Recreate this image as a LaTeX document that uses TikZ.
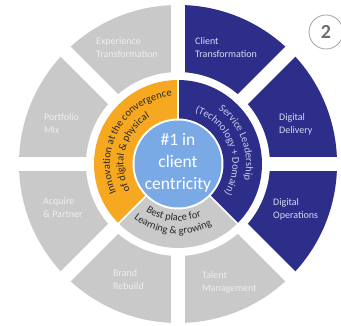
\documentclass[tikz,border=0pt]{standalone}
\usepackage{fontspec}
\setmainfont{Carlito}
\usetikzlibrary{decorations.text}
\definecolor{segGrey}{RGB}{201,201,201}
\definecolor{segBlue}{RGB}{44,46,138}
\definecolor{segOrange}{RGB}{246,168,33}
\definecolor{hubBlue}{RGB}{122,170,230}
\definecolor{paleText}{RGB}{238,238,238}
\definecolor{blueText}{RGB}{214,218,240}
\definecolor{ringBlueText}{RGB}{200,205,238}
\definecolor{darkText}{RGB}{40,40,40}
\definecolor{badgeGrey}{RGB}{110,110,110}
\newcommand{\ringfont}{\fontsize{10.5}{12}\selectfont}

\begin{document}
\begin{tikzpicture}
	[x=1pt,y=1pt,
	 segtext/.style={font=\fontsize{10}{13}\selectfont,align=left,anchor=west,inner sep=0pt},
	 gapline/.style={white,line width=14pt},
	 sepline/.style={white,line width=1.5pt},
	 ringtext/.style={decorate,decoration={text along path,text align=center,text color=#1}},
	 hubtext/.style={text=white,font=\fontsize{17.5}{22}\selectfont,align=center,inner sep=0pt},
	 badge/.style={circle,draw=segGrey!80!black,line width=0.8pt,minimum size=34pt,inner sep=0pt,text=badgeGrey,font=\fontsize{20}{20}\selectfont\bfseries}]
	\useasboundingbox (-178,-162) rectangle (163,164);
	% outer ring
	\fill[segGrey,even odd rule] (0,0) circle[radius=159pt] (0,0) circle[radius=92pt];
	\fill[segBlue] (-45:92pt) arc[start angle=-45,end angle=90,radius=92pt] -- (90:159pt) arc[start angle=90,end angle=-45,radius=159pt] -- cycle;
	\draw[gapline] (0:165pt) -- (180:165pt);
	\draw[gapline] (45:165pt) -- (225:165pt);
	\draw[gapline] (90:165pt) -- (270:165pt);
	\draw[gapline] (135:165pt) -- (315:165pt);
	% middle ring
	\fill[white] (0,0) circle[radius=88pt];
	\fill[segOrange] (0,0) -- (90:84pt) arc[start angle=90,end angle=225,radius=84pt] -- cycle;
	\fill[segGrey] (0,0) -- (225:84pt) arc[start angle=225,end angle=315,radius=84pt] -- cycle;
	\fill[segBlue] (0,0) -- (315:84pt) arc[start angle=315,end angle=450,radius=84pt] -- cycle;
	\draw[sepline] (0,0) -- (90:85pt);
	\draw[sepline] (0,0) -- (225:85pt);
	\draw[sepline] (0,0) -- (315:85pt);
	\fill[white] (0,0) circle[radius=45.5pt];
	\fill[hubBlue] (0,0) circle[radius=43.5pt];
	% ring texts
	\path[ringtext=darkText,decoration={text={|\ringfont|Innovation at the convergence}}] (232:68pt) arc[start angle=232,end angle=68,radius=68pt];
	\path[ringtext=darkText,decoration={text={|\ringfont|of digital {\&} physical}}] (245:54.5pt) arc[start angle=245,end angle=85,radius=54.5pt];
	\path[ringtext=ringBlueText,decoration={text={|\ringfont|Service Leadership}}] (100:68pt) arc[start angle=100,end angle=-60,radius=68pt];
	\path[ringtext=ringBlueText,decoration={text={|\ringfont|(Technology + Domain)}}] (100:54.5pt) arc[start angle=100,end angle=-60,radius=54.5pt];
	\path[ringtext=darkText,decoration={text={|\ringfont|Best place for}}] (190:57pt) arc[start angle=190,end angle=340,radius=57pt];
	\path[ringtext=darkText,decoration={text={|\ringfont|Learning {\&} growing}}] (190:70pt) arc[start angle=190,end angle=340,radius=70pt];
	% hub and outer texts
	\node[hubtext] (hub) at (0,1) {\#1 in\\client\\centricity};
	\node[segtext,text=paleText] (exptrans) at (-82,116) {Experience\\Transformation};
	\node[segtext,text=blueText] (clienttrans) at (17,116) {Client\\Transformation};
	\node[segtext,text=paleText] (portfolio) at (-134,40) {Portfolio\\Mix};
	\node[segtext,text=blueText] (delivery) at (101,40) {Digital\\Delivery};
	\node[segtext,text=paleText] (acquire) at (-135,-44) {Acquire\\\& Partner};
	\node[segtext,text=blueText] (operations) at (95,-45) {Digital\\Operations};
	\node[segtext,text=paleText] (brand) at (-65,-116) {Brand\\Rebuild};
	\node[segtext,text=paleText] (talent) at (24,-118) {Talent\\Management};
	\node[badge] (number) at (148,132) {2};
\end{tikzpicture}
\end{document}
